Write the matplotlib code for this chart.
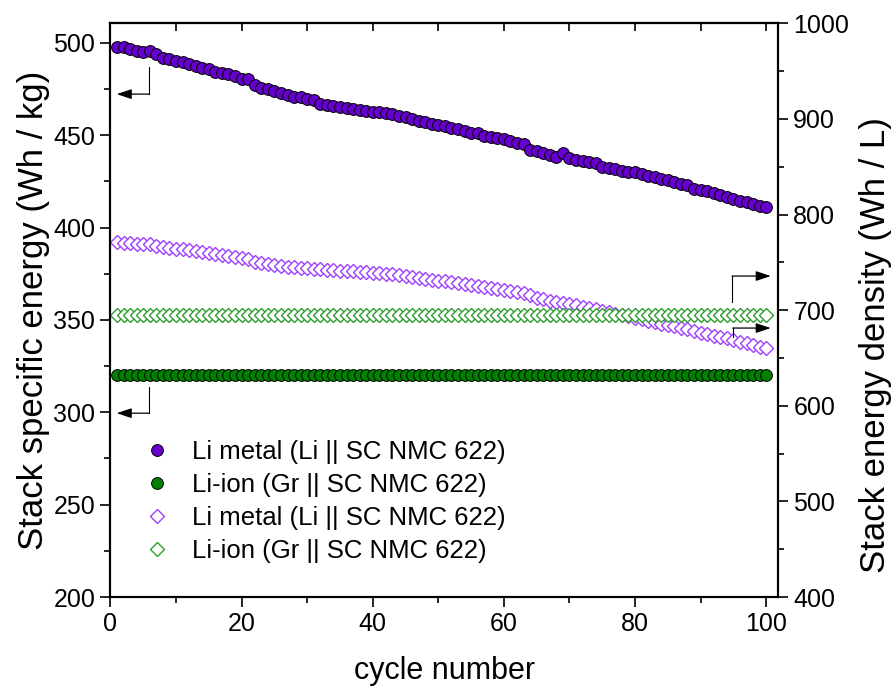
import matplotlib
matplotlib.use("Agg")
import matplotlib.pyplot as plt
from matplotlib.ticker import MultipleLocator

plt.rcParams['font.family'] = ['Liberation Sans', 'DejaVu Sans']

cycles = list(range(1, 101))

li_metal_wh_kg = [
    497.8, 497.5, 496.4, 495.7, 494.8, 495.7, 493.9, 491.9, 491.0, 490.3,
    489.4, 488.3, 487.4, 486.5, 485.6, 484.3, 483.8, 482.9, 481.9, 480.5,
    480.2, 477.1, 475.3, 474.7, 473.8, 472.9, 471.7, 470.9, 470.4, 469.5,
    468.8, 466.8, 466.3, 465.5, 465.0, 464.5, 464.0, 463.6, 463.2, 462.6,
    462.3, 461.8, 461.3, 460.6, 459.9, 458.9, 457.8, 457.1, 456.0, 455.6,
    454.9, 453.8, 453.1, 452.4, 451.3, 450.9, 449.5, 448.8, 448.4, 447.7,
    446.9, 445.9, 445.1, 441.9, 441.5, 440.4, 439.4, 438.3, 440.1, 437.4,
    436.5, 436.1, 435.4, 434.7, 432.9, 432.1, 431.4, 430.7, 430.2, 429.9,
    428.9, 427.8, 427.1, 426.4, 425.6, 424.9, 423.8, 422.8, 420.6, 420.2,
    419.5, 418.5, 417.5, 416.3, 415.2, 414.4, 413.6, 412.8, 411.9, 411.0,
]
li_ion_wh_kg = [320.0] * 100

li_metal_wh_l = [
    771.0, 770.5, 770.0, 769.5, 769.0, 769.0, 767.5, 766.5, 765.5, 764.5,
    763.5, 762.5, 761.5, 760.5, 759.5, 758.5, 757.5, 756.5, 755.5, 754.5,
    753.5, 750.5, 749.0, 748.0, 747.0, 746.0, 745.5, 745.0, 744.5, 744.0,
    743.5, 743.0, 742.5, 742.0, 741.5, 741.0, 740.5, 740.0, 739.5, 739.0,
    738.5, 738.0, 737.5, 737.0, 736.0, 735.0, 734.0, 733.0, 732.0, 731.0,
    730.0, 729.0, 728.0, 727.0, 726.0, 725.0, 724.0, 723.0, 722.0, 721.0,
    720.0, 719.0, 718.0, 715.5, 713.0, 711.5, 710.0, 709.0, 708.0, 706.5,
    705.0, 703.5, 702.0, 701.0, 699.5, 698.0, 696.5, 695.0, 693.5, 692.0,
    690.5, 689.0, 687.5, 686.0, 684.5, 683.0, 681.5, 680.0, 678.5, 676.5,
    675.0, 673.5, 672.0, 670.5, 668.5, 667.0, 665.5, 663.5, 662.0, 660.0,
]
li_ion_wh_l = [695.0] * 100

labels = ["Li metal (Li || SC NMC 622)", "Li-ion (Gr || SC NMC 622)",
          "Li metal (Li || SC NMC 622)", "Li-ion (Gr || SC NMC 622)"]

purple = '#6600CC'
green = '#008000'
purple_open = '#A040FF'
green_open = '#2E9E2E'

fig = plt.figure(figsize=(8.93, 6.87), dpi=100)
ax = fig.add_axes([0.1237, 0.131, 0.7475, 0.835])
ax2 = ax.twinx()

h3, = ax2.plot(cycles, li_metal_wh_l, linestyle='none', marker='D', ms=6.8,
               mfc='white', mec=purple_open, mew=1.0, zorder=2)
h4, = ax2.plot(cycles, li_ion_wh_l, linestyle='none', marker='D', ms=6.8,
               mfc='white', mec=green_open, mew=1.0, zorder=2)
h1, = ax.plot(cycles, li_metal_wh_kg, linestyle='none', marker='o', ms=8.5,
              mfc=purple, mec='black', mew=0.7, zorder=3)
h2, = ax.plot(cycles, li_ion_wh_kg, linestyle='none', marker='o', ms=8.5,
              mfc=green, mec='black', mew=0.7, zorder=3)

ax.set_zorder(ax2.get_zorder() + 1)
ax.patch.set_visible(False)

ax.set_xlim(0, 101.8)
ax.set_ylim(200, 510.5)
ax2.set_ylim(400, 1000)

ax.xaxis.set_major_locator(MultipleLocator(20))
ax.xaxis.set_minor_locator(MultipleLocator(10))
ax.yaxis.set_major_locator(MultipleLocator(50))
ax.yaxis.set_minor_locator(MultipleLocator(25))
ax2.yaxis.set_major_locator(MultipleLocator(100))
ax2.yaxis.set_minor_locator(MultipleLocator(50))

for a in (ax, ax2):
    for s in a.spines.values():
        s.set_linewidth(1.5)

ax.tick_params(axis='both', which='major', direction='out', length=7, width=1.2,
               labelsize=18, top=False, right=False, pad=4)
ax.tick_params(axis='both', which='minor', direction='out', length=4.5, width=1.2,
               top=False, right=False)
ax2.tick_params(axis='y', which='major', direction='out', length=7, width=1.2,
                labelsize=18, pad=4)
ax2.tick_params(axis='y', which='minor', direction='out', length=4.5, width=1.2)

# top inward ticks every 10 cycles
secx = ax.secondary_xaxis('top')
secx.xaxis.set_major_locator(MultipleLocator(10))
secx.tick_params(axis='x', direction='in', length=6, width=1.2, labeltop=False)
secx.spines['top'].set_linewidth(1.5)

ax.set_xlabel('cycle number', fontsize=22, labelpad=14)
ax.set_ylabel('Stack specific energy (Wh / kg)', fontsize=25, labelpad=2)
ax2.set_ylabel('Stack energy density (Wh / L)', fontsize=25)
ax2.yaxis.set_label_coords(1.122, 0.44)

leg = ax.legend([h1, h2, h3, h4], labels, loc='center left',
                bbox_to_anchor=(0.041, 0.1665), frameon=False, fontsize=18.5,
                handletextpad=0.6, labelspacing=0.36, handlelength=1.5,
                borderaxespad=0, borderpad=0)

# axis indicator arrows
akw = dict(arrowstyle='-|>,head_length=0.9,head_width=0.3', color='black', lw=0.9,
           shrinkA=0, shrinkB=0)
ax.plot([5.9, 5.9], [486.7, 472.2], color='black', lw=0.8)
ax.annotate('', xy=(0.95, 472.2), xytext=(5.9, 472.2), arrowprops=akw)
ax.plot([5.9, 5.9], [313.6, 299.5], color='black', lw=0.8)
ax.annotate('', xy=(0.95, 299.5), xytext=(5.9, 299.5), arrowprops=akw)
ax2.plot([94.8, 94.8], [708.5, 735.7], color='black', lw=0.8)
ax2.annotate('', xy=(100.7, 735.7), xytext=(94.8, 735.7), arrowprops=akw)
ax2.plot([94.9, 94.9], [671.9, 681.3], color='black', lw=0.8)
ax2.annotate('', xy=(100.7, 681.3), xytext=(94.9, 681.3), arrowprops=akw)

fig.savefig('out.png', dpi=100)
